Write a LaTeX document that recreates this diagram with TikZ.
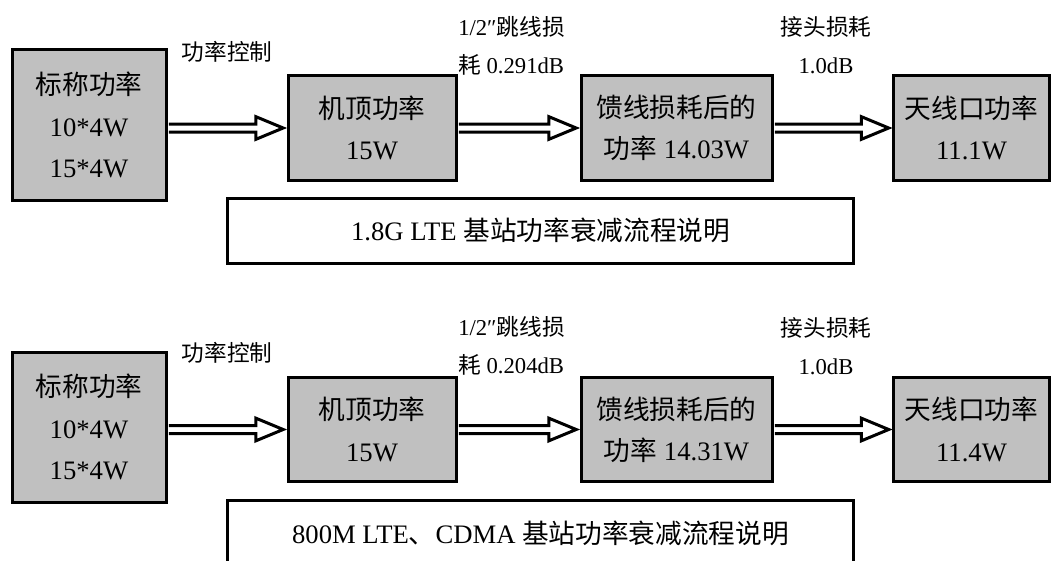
\documentclass[tikz,border=0pt]{standalone}
\usepackage{fontspec}
\usepackage{tikz}
\usetikzlibrary{calc}
\setmainfont{Liberation Serif}
\newfontfamily\cjk{Noto Sans CJK SC}
\definecolor{boxgray}{RGB}{192,192,192}
\newcommand{\zh}[1]{{\cjk #1}}
\newcommand{\boxfont}{\fontsize{20}{31}\selectfont}
\newcommand{\labfont}{\fontsize{17}{28.5}\selectfont}
\tikzset{
	pwrbox/.style={draw, line width=2.25pt, fill=boxgray, align=center, inner sep=0pt, font=\boxfont},
	capbox/.style={draw, line width=2.25pt, fill=white, inner sep=0pt, font=\boxfont},
	lab/.style={inner sep=0pt, font=\labfont},
	pwrflow/.style={line width=2.25pt, fill=white, line join=miter, to path={
		let \p1=(\tikztostart), \p2=(\tikztotarget) in
		(\x1+1.1pt,\y2+3pt) -- (\x2-23pt,\y2+3pt) -- (\x2-23pt,\y2+8.5pt) -- (\x2-2.5pt,\y2)
		-- (\x2-23pt,\y2-8.5pt) -- (\x2-23pt,\y2-3pt) -- (\x1+1.1pt,\y2-3pt)}}
}

\begin{document}
\begin{tikzpicture}[x=0.75pt, y=-0.75pt]
	\path[use as bounding box, clip] (0,0) rectangle (1052,560);
	% 1.8G LTE
	\node[pwrbox, minimum width=115.5pt, minimum height=112.5pt] (t-1) at (89,125) {\zh{标称功率}\\10*4W\\15*4W};
	\node[pwrbox, minimum width=126pt, minimum height=78pt] (t-2) at (372,128) {\zh{机顶功率}\\15W};
	\node[pwrbox, minimum width=143.25pt, minimum height=78pt] (t-3) at (676.5,128) {\zh{馈线损耗后的}\\\zh{功率} 14.03W};
	\node[pwrbox, minimum width=117pt, minimum height=78pt] (t-4) at (971.5,128) {\zh{天线口功率}\\11.1W};
	\node[capbox, minimum width=470pt, minimum height=48.75pt] (t-c) at (540.5,230.5) {1.8G LTE \zh{基站功率衰减流程说明}};
	\node[lab] (t-l1) at (227,52) {\zh{功率控制}};
	\node[lab, anchor=west, align=left] (t-l2) at (458,46) {1/2″\zh{跳线损}\\\zh{耗} 0.291dB};
	\node[lab, align=center] (t-l3) at (826,45) {\zh{接头损耗}\\1.0dB};
	\path (t-1.east) edge[pwrflow] (t-2.west)
		(t-2.east) edge[pwrflow] (t-3.west)
		(t-3.east) edge[pwrflow] (t-4.west);
	% 800M LTE, CDMA
	\node[pwrbox, minimum width=115.5pt, minimum height=112.5pt] (u-1) at (89,427) {\zh{标称功率}\\10*4W\\15*4W};
	\node[pwrbox, minimum width=126pt, minimum height=78pt] (u-2) at (372,429.5) {\zh{机顶功率}\\15W};
	\node[pwrbox, minimum width=143.25pt, minimum height=78pt] (u-3) at (676.5,429.5) {\zh{馈线损耗后的}\\\zh{功率} 14.31W};
	\node[pwrbox, minimum width=117pt, minimum height=78pt] (u-4) at (971.5,429.5) {\zh{天线口功率}\\11.4W};
	\node[capbox, minimum width=470pt, minimum height=48.75pt] (u-c) at (540.5,533) {800M LTE\zh{、}CDMA \zh{基站功率衰减流程说明}};
	\node[lab] (u-l1) at (227,353) {\zh{功率控制}};
	\node[lab, anchor=west, align=left] (u-l2) at (458,346) {1/2″\zh{跳线损}\\\zh{耗} 0.204dB};
	\node[lab, align=center] (u-l3) at (826,346) {\zh{接头损耗}\\1.0dB};
	\path (u-1.east) edge[pwrflow] (u-2.west)
		(u-2.east) edge[pwrflow] (u-3.west)
		(u-3.east) edge[pwrflow] (u-4.west);
\end{tikzpicture}
\end{document}
